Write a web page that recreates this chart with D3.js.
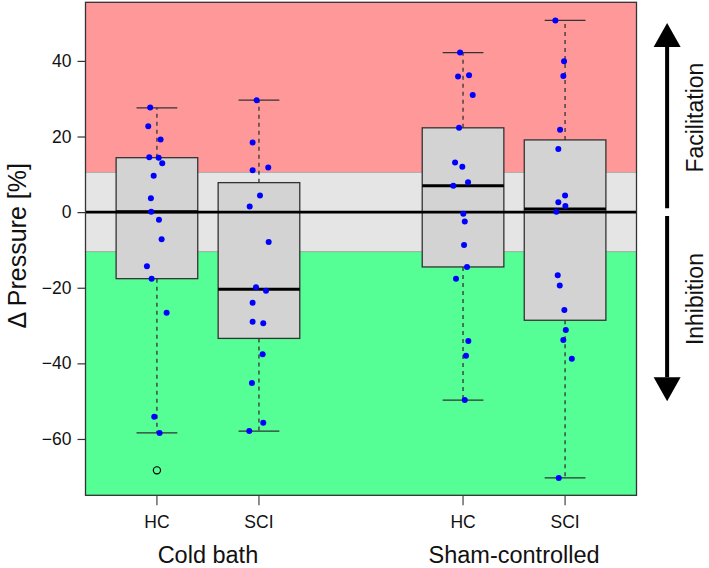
<!DOCTYPE html>
<html><head><meta charset="utf-8">
<script src="https://cdn.jsdelivr.net/npm/d3@7"></script>
<style>body{margin:0;background:#fff} svg{display:block}</style>
</head><body>
<script>
// ---------- data ----------
const groupNames = ["Cold bath", "Sham-controlled"];
const boxLabels = ["HC", "SCI", "HC", "SCI"];
const yTicks = [-60, -40, -20, 0, 20, 40];
const whiskerLow  = [-58.4, -57.9, -49.7, -70.3];
const q1          = [-17.6, -33.4, -14.5, -28.6];
const medians     = [0.1, -20.4, 7.0, 0.8];
const q3          = [14.4, 7.8, 22.3, 19.1];
const whiskerHigh = [27.6, 29.6, 42.2, 50.7];
const outliers    = [[-68.3], [], [], []];

const valuesColdHC = [27.7, 22.7, 19.2, 14.5, 14.4, 12.9, 9.6, 3.7, 0.1, -2.0, -7.2, -14.3, -17.6, -26.6, -54.1, -58.4];
const jitterColdHC = [-0.066, -0.085, 0.036, -0.075, 0.017, 0.052, -0.032, -0.059, -0.056, 0.020, 0.046, -0.098, -0.052, 0.095, -0.026, 0.026];
const valuesColdSCI = [29.6, 18.4, 11.1, 11.8, 4.4, 1.5, -7.9, -19.9, -20.8, -24.0, -29.0, -29.4, -37.6, -45.2, -55.7, -57.9];
const jitterColdSCI = [-0.023, -0.062, -0.062, 0.091, 0.010, -0.091, 0.095, -0.029, 0.069, -0.062, -0.062, 0.042, 0.036, -0.069, 0.042, -0.095];
const valuesShamHC = [42.2, 35.9, 36.2, 31.0, 22.3, 13.1, 12.0, 7.9, 7.0, -0.4, -2.5, -8.7, -14.5, -17.6, -34.1, -38.0, -49.7];
const jitterShamHC = [-0.029, -0.049, 0.059, 0.095, -0.039, -0.078, -0.007, 0.049, -0.095, 0.003, 0.017, 0.010, 0.039, -0.069, 0.052, 0.029, 0.017];
const valuesShamSCI = [50.7, 39.9, 36.0, 21.8, 16.7, 4.4, 2.6, 1.6, 0.1, -16.7, -19.4, -25.9, -31.2, -33.8, -38.8, -70.3];
const jitterShamSCI = [-0.095, -0.010, -0.017, -0.049, -0.066, 0.0, -0.066, 0.003, -0.085, -0.072, -0.052, -0.007, 0.007, -0.017, 0.066, -0.062];

const pointValues = [valuesColdHC, valuesColdSCI, valuesShamHC, valuesShamSCI];
const pointJitter = [jitterColdHC, jitterColdSCI, jitterShamHC, jitterShamSCI];

const bandLimit = 10.5;
const arrowFrom = 1, arrowTo = 50;
const sideLabels = ["Facilitation", "Inhibition"];
const sideLabelY = [25, -23];

// ---------- layout ----------
const W = 709, H = 568;
const font = "'Liberation Sans', Arial, Helvetica, sans-serif";
const svg = d3.select("body").append("svg").attr("width", W).attr("height", H)
  .style("font-family", font);

const x = d3.scaleLinear().domain([0.3, 5.7]).range([85.5, 636.5]);
const y = d3.scaleLinear().domain([-74.9, 55.5]).range([495.3, 2.3]);
const pos = i => i + 1 + (i >= 2 ? 1 : 0);
const [xl, xr] = x.range();
const [yb, yt] = y.range();
const bw = 0.8, cw = 0.4;

// background bands
const bands = [
  {lo: bandLimit, hi: 55.5, c: "#FF9999"},
  {lo: -bandLimit, hi: bandLimit, c: "#E5E5E5"},
  {lo: -74.9, hi: -bandLimit, c: "#55FF95"}
];
svg.selectAll("rect.band").data(bands).join("rect")
  .attr("x", xl).attr("width", xr - xl)
  .attr("y", d => y(d.hi)).attr("height", d => y(d.lo) - y(d.hi))
  .attr("fill", d => d.c).attr("stroke", "#9a9a9a").attr("stroke-width", 0.6);

const idx = d3.range(4);
const g = svg.append("g");

// whiskers (dashed)
idx.forEach(i => {
  const cx = x(pos(i));
  g.append("line").attr("x1", cx).attr("x2", cx).attr("y1", y(q3[i])).attr("y2", y(whiskerHigh[i]))
    .attr("stroke", "#333").attr("stroke-width", 1.3).attr("stroke-dasharray", "4,4");
  g.append("line").attr("x1", cx).attr("x2", cx).attr("y1", y(q1[i])).attr("y2", y(whiskerLow[i]))
    .attr("stroke", "#333").attr("stroke-width", 1.3).attr("stroke-dasharray", "4,4");
  [whiskerHigh[i], whiskerLow[i]].forEach(v => {
    g.append("line").attr("x1", x(pos(i) - cw / 2)).attr("x2", x(pos(i) + cw / 2))
      .attr("y1", y(v)).attr("y2", y(v)).attr("stroke", "#333").attr("stroke-width", 1.3);
  });
  outliers[i].forEach(v => {
    g.append("circle").attr("cx", cx).attr("cy", y(v)).attr("r", 3.6)
      .attr("fill", "none").attr("stroke", "#000").attr("stroke-width", 1.2);
  });
});

// boxes
g.selectAll("rect.box").data(idx).join("rect")
  .attr("x", i => x(pos(i) - bw / 2)).attr("width", i => x(pos(i) + bw / 2) - x(pos(i) - bw / 2))
  .attr("y", i => y(q3[i])).attr("height", i => y(q1[i]) - y(q3[i]))
  .attr("fill", "#D3D3D3").attr("stroke", "#333").attr("stroke-width", 1.3);
g.selectAll("line.med").data(idx).join("line")
  .attr("x1", i => x(pos(i) - bw / 2)).attr("x2", i => x(pos(i) + bw / 2))
  .attr("y1", i => y(medians[i])).attr("y2", i => y(medians[i]))
  .attr("stroke", "#000").attr("stroke-width", 3);

// zero line
svg.append("line").attr("x1", xl).attr("x2", xr).attr("y1", y(0)).attr("y2", y(0))
  .attr("stroke", "#000").attr("stroke-width", 2.6);

// points
idx.forEach(i => {
  svg.append("g").selectAll("circle").data(pointValues[i]).join("circle")
    .attr("cx", (v, k) => x(pos(i) + pointJitter[i][k]))
    .attr("cy", v => y(v)).attr("r", 3).attr("fill", "#0000FF");
});

// border
svg.append("rect").attr("x", xl).attr("y", yt).attr("width", xr - xl).attr("height", yb - yt)
  .attr("fill", "none").attr("stroke", "#333").attr("stroke-width", 1.3);

// y axis
const ya = svg.append("g").attr("transform", `translate(${xl},0)`)
  .call(d3.axisLeft(y).tickValues(yTicks).tickSize(8).tickPadding(6));
ya.select(".domain").remove();
ya.selectAll("line").attr("stroke", "#333").attr("stroke-width", 1.2);
ya.selectAll("text").attr("font-size", 17.5).attr("fill", "#111").style("font-family", font);

// x axis
const xa = svg.append("g");
idx.forEach(i => {
  xa.append("line").attr("x1", x(pos(i))).attr("x2", x(pos(i))).attr("y1", yb).attr("y2", yb + 10)
    .attr("stroke", "#444").attr("stroke-width", 1.2);
  xa.append("text").attr("x", x(pos(i))).attr("y", 528).attr("text-anchor", "middle")
    .attr("font-size", 17.5).attr("fill", "#111").text(boxLabels[i]);
});
groupNames.forEach((n, j) => {
  const cx = (x(pos(2 * j)) + x(pos(2 * j + 1))) / 2;
  svg.append("text").attr("x", cx).attr("y", 562.5).attr("text-anchor", "middle")
    .attr("font-size", 23.5).attr("fill", "#111").text(n);
});

// y title
svg.append("text").attr("transform", `translate(26,${(yt + yb) / 2 - 3}) rotate(-90)`)
  .attr("text-anchor", "middle").attr("font-size", 25).attr("fill", "#111").text("Δ Pressure [%]");

// arrows
const ax = x(6);
function arrow(from, to) {
  const dir = to > from ? -1 : 1;
  const tip = y(to), base = tip - dir * 24;
  svg.append("line").attr("x1", ax).attr("x2", ax).attr("y1", y(from)).attr("y2", base)
    .attr("stroke", "#000").attr("stroke-width", 4);
  svg.append("path").attr("d", `M${ax},${tip} L${ax - 13.5},${base} L${ax + 13.5},${base} Z`).attr("fill", "#000");
}
arrow(arrowFrom, arrowTo);
arrow(-arrowFrom, -arrowTo);

sideLabels.forEach((t, j) => {
  svg.append("text").attr("transform", `translate(703,${y(sideLabelY[j])}) rotate(-90)`)
    .attr("text-anchor", "middle").attr("font-size", 23).attr("fill", "#111").text(t);
});
</script>
</body></html>
